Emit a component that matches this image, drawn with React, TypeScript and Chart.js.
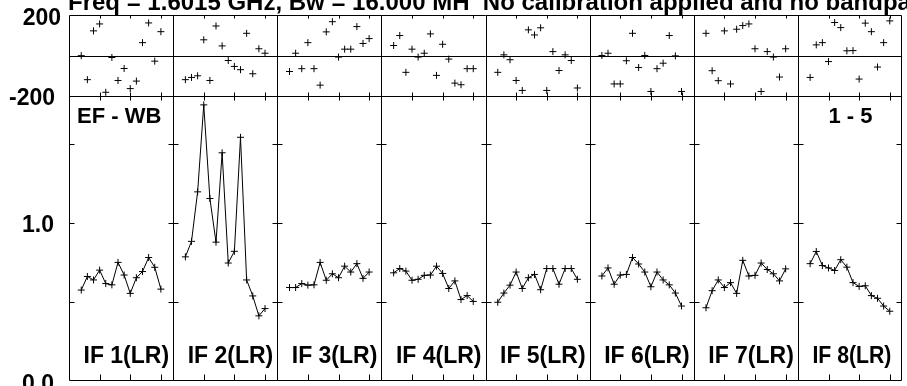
import React, { useEffect, useRef } from 'react';
import { Chart, registerables } from 'chart.js';

Chart.register(...registerables);

const TITLE = 'Freq = 1.6015 GHz, Bw = 16.000 MH  No calibration applied and no bandpa';
const BASELINE_LABEL = 'EF - WB';
const CHANNEL_RANGE_LABEL = '1 - 5';
const IF_LABELS = ['IF 1(LR)', 'IF 2(LR)', 'IF 3(LR)', 'IF 4(LR)', 'IF 5(LR)', 'IF 6(LR)', 'IF 7(LR)', 'IF 8(LR)'];
const CHANNELS = [2, 3, 4, 5, 6, 7, 8, 9, 10, 11, 12, 13, 14, 15];
const CHANNELS_PER_PANEL = 17;
const CHANNEL_TICKS = [5, 10, 15];
const PHASE_MIN = -200;
const PHASE_MAX = 200;
const AMP_MIN = 0;
const AMP_MAX = 1.8;
const AMP_TICKS = [0.5, 1.0, 1.5];
const PHASE_LABELS = ['200', '-200'];
const AMP_LABELS = ['1.0', '0.0'];

const PHASE_IF1 = [0, -118, 122, 156, -180, -9, -122, -63, -162, -125, 64, 161, -27, 118];
const PHASE_IF2 = [-118, -107, -99, 78, -122, 146, 48, -24, -53, -69, 110, -89, 34, 12];
const PHASE_IF3 = [-78, 12, -64, 64, -64, -145, 117, 167, -7, 32, 32, 143, 60, 84];
const PHASE_IF4 = [50, 99, -82, 32, -7, 12, 107, -97, 56, -17, -135, -143, -64, -64];
const PHASE_IF5 = [-82, 4, -20, -122, -171, 127, 102, 137, -171, 20, -73, 4, -24, -159];
const PHASE_IF6 = [1, 12, -139, -139, -25, 110, -58, 1, -176, -64, -37, 99, -1, -176];
const PHASE_IF7 = [110, -74, -123, 122, -139, 130, 148, 156, 34, -176, 20, -7, -105, 34];
const PHASE_IF8 = [-107, 53, 64, -29, 163, 138, 24, 25, -115, 160, 118, -56, 64, 171];

const AMP_IF1 = [0.575, 0.661, 0.639, 0.701, 0.616, 0.608, 0.750, 0.670, 0.554, 0.653, 0.692, 0.781, 0.719, 0.581];
const AMP_IF2 = [0.785, 0.883, 1.196, 1.746, 1.154, 0.878, 1.443, 0.746, 0.820, 1.541, 0.639, 0.538, 0.412, 0.458];
const AMP_IF3 = [0.591, 0.591, 0.616, 0.606, 0.608, 0.750, 0.637, 0.678, 0.653, 0.726, 0.689, 0.742, 0.649, 0.689];
const AMP_IF4 = [0.684, 0.711, 0.695, 0.637, 0.643, 0.668, 0.670, 0.726, 0.680, 0.585, 0.633, 0.515, 0.540, 0.503];
const AMP_IF5 = [0.498, 0.556, 0.606, 0.689, 0.585, 0.653, 0.674, 0.577, 0.711, 0.711, 0.612, 0.711, 0.711, 0.643];
const AMP_IF6 = [0.664, 0.715, 0.612, 0.670, 0.674, 0.781, 0.740, 0.689, 0.596, 0.689, 0.639, 0.608, 0.556, 0.474];
const AMP_IF7 = [0.463, 0.571, 0.639, 0.591, 0.622, 0.554, 0.763, 0.664, 0.668, 0.746, 0.705, 0.678, 0.633, 0.709];
const AMP_IF8 = [0.742, 0.819, 0.730, 0.715, 0.699, 0.767, 0.720, 0.622, 0.598, 0.602, 0.540, 0.523, 0.474, 0.441];

const PHASES = [PHASE_IF1, PHASE_IF2, PHASE_IF3, PHASE_IF4, PHASE_IF5, PHASE_IF6, PHASE_IF7, PHASE_IF8];
const AMPS = [AMP_IF1, AMP_IF2, AMP_IF3, AMP_IF4, AMP_IF5, AMP_IF6, AMP_IF7, AMP_IF8];
const NPANELS = IF_LABELS.length;
const XMAX = NPANELS * CHANNELS_PER_PANEL;

const FONT = '"Liberation Sans", Arial, Helvetica, sans-serif';

const crisp = (v: number) => Math.round(v) + 0.5;

const panelPlugin = {
  id: 'possmPanels',
  afterDatasetsDraw(chart: any) {
    const ctx: CanvasRenderingContext2D = chart.ctx;
    const xs = chart.scales.x;
    const yp = chart.scales.yp;
    const ya = chart.scales.ya;
    const L = crisp(xs.getPixelForValue(0));
    const R = crisp(xs.getPixelForValue(XMAX)) - 1;
    const pTop = crisp(yp.getPixelForValue(PHASE_MAX));
    const pBot = crisp(yp.getPixelForValue(PHASE_MIN));
    const p0 = crisp(yp.getPixelForValue(0));
    const aBot = crisp(ya.getPixelForValue(AMP_MIN)) - 1;

    ctx.save();
    ctx.strokeStyle = '#000';
    ctx.lineWidth = 1;
    ctx.beginPath();
    // horizontal frame lines
    [pTop, p0, pBot, aBot].forEach((y) => {
      ctx.moveTo(L, y);
      ctx.lineTo(R, y);
    });
    // vertical panel borders
    for (let p = 0; p <= NPANELS; p++) {
      const x = p === NPANELS ? R : crisp(xs.getPixelForValue(p * CHANNELS_PER_PANEL));
      ctx.moveTo(x, pTop);
      ctx.lineTo(x, aBot);
      // amplitude y ticks
      AMP_TICKS.forEach((v) => {
        const y = crisp(ya.getPixelForValue(v));
        ctx.moveTo(p === 0 ? x : x - 5, y);
        ctx.lineTo(p === NPANELS ? x : x + 5, y);
      });
    }
    // channel ticks
    for (let p = 0; p < NPANELS; p++) {
      CHANNEL_TICKS.forEach((c) => {
        const x = crisp(xs.getPixelForValue(p * CHANNELS_PER_PANEL + c));
        ctx.moveTo(x, pTop);
        ctx.lineTo(x, pTop + 3);
        ctx.moveTo(x, pBot - 4);
        ctx.lineTo(x, pBot + 4);
        ctx.moveTo(x, aBot);
        ctx.lineTo(x, aBot - 6);
      });
    }
    ctx.stroke();

    ctx.fillStyle = '#000';
    // title
    ctx.font = `bold 24px ${FONT}`;
    ctx.textAlign = 'left';
    ctx.textBaseline = 'alphabetic';
    ctx.fillText(TITLE, 68, 10);

    // axis labels
    ctx.font = `bold 23px ${FONT}`;
    ctx.textAlign = 'right';
    ctx.textBaseline = 'middle';
    ctx.fillText(PHASE_LABELS[0], 61, yp.getPixelForValue(PHASE_MAX) + 4);
    ctx.fillText(PHASE_LABELS[1], 55, yp.getPixelForValue(PHASE_MIN) + 2);
    ctx.fillText(AMP_LABELS[0], 54, ya.getPixelForValue(1.0) + 3);
    ctx.fillText(AMP_LABELS[1], 54, ya.getPixelForValue(0) + 4);

    // panel annotations
    ctx.textAlign = 'left';
    ctx.textBaseline = 'alphabetic';
    ctx.font = `bold 22px ${FONT}`;
    ctx.fillText(BASELINE_LABEL, xs.getPixelForValue(0) + 8, 123);
    ctx.fillText(CHANNEL_RANGE_LABEL, xs.getPixelForValue((NPANELS - 1) * CHANNELS_PER_PANEL) + 30.5, 123);
    ctx.font = `bold 23px ${FONT}`;
    IF_LABELS.forEach((lab, p) => {
      const x0 = xs.getPixelForValue(p * CHANNELS_PER_PANEL) + 14.5;
      if (p === NPANELS - 1) ctx.fillText(lab, x0, 363, 79);
      else ctx.fillText(lab, x0, 363);
    });
    ctx.restore();
  },
};

export default function App() {
  const canvasRef = useRef<HTMLCanvasElement | null>(null);

  useEffect(() => {
    const canvas = canvasRef.current;
    if (!canvas) return;
    const datasets: any[] = [];
    PHASES.forEach((arr, p) => {
      datasets.push({
        label: `phase ${IF_LABELS[p]}`,
        data: arr.map((v, i) => ({ x: p * CHANNELS_PER_PANEL + CHANNELS[i], y: v })),
        xAxisID: 'x',
        yAxisID: 'yp',
        showLine: false,
        pointStyle: 'cross',
        pointRadius: 3.5,
        pointBorderWidth: 1,
        pointBorderColor: '#000',
        borderColor: '#000',
        backgroundColor: '#000',
      });
    });
    AMPS.forEach((arr, p) => {
      datasets.push({
        label: `amp ${IF_LABELS[p]}`,
        data: arr.map((v, i) => ({ x: p * CHANNELS_PER_PANEL + CHANNELS[i], y: v })),
        xAxisID: 'x',
        yAxisID: 'ya',
        showLine: true,
        tension: 0,
        borderWidth: 1,
        borderColor: '#000',
        pointStyle: 'cross',
        pointRadius: 3.5,
        pointBorderWidth: 1,
        pointBorderColor: '#000',
        backgroundColor: '#000',
      });
    });

    const chart = new Chart(canvas, {
      type: 'line',
      data: { datasets },
      options: {
        responsive: false,
        animation: false,
        devicePixelRatio: 1,
        events: [],
        layout: { padding: { left: 69, right: 1, top: 15, bottom: 2 } },
        plugins: {
          legend: { display: false },
          tooltip: { enabled: false },
          title: { display: false },
        },
        scales: {
          x: { type: 'linear', min: 0, max: XMAX, display: false },
          yp: {
            type: 'linear', min: PHASE_MIN, max: PHASE_MAX, display: false,
            position: 'left', stack: 'v', stackWeight: 82, weight: 2,
          },
          ya: {
            type: 'linear', min: AMP_MIN, max: AMP_MAX, display: false,
            position: 'left', stack: 'v', stackWeight: 287, weight: 1,
          },
        },
      } as any,
      plugins: [panelPlugin],
    });
    return () => chart.destroy();
  }, []);

  return (
    <div style={{ position: 'absolute', left: 0, top: 0, width: 907, height: 386, background: '#fff', overflow: 'hidden' }}>
      <canvas ref={canvasRef} width={907} height={386} style={{ display: 'block', width: 907, height: 386 }} />
    </div>
  );
}
